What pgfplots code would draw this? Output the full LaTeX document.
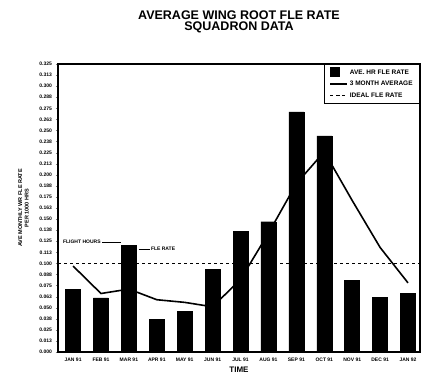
\documentclass[border=0pt]{standalone}
\usepackage{pgfplots}
\pgfplotsset{compat=1.18}
\usepackage{fontspec}
\setmainfont{Liberation Sans}
\begin{document}
\begin{tikzpicture}[x=1pt,y=1pt]
\path[use as bounding box] (0,0) rectangle (427,382);
\begin{axis}[
  at={(58pt,30pt)}, anchor=south west,
  scale only axis, width=362pt, height=288pt,
  xmin=0.46, xmax=13.43, ymin=0, ymax=0.325,
  axis line style={line width=1.2pt},
  ytick={0,0.0125,...,0.33},
  yticklabel style={font=\fontsize{5}{5}\selectfont\bfseries, /pgf/number format/fixed, /pgf/number format/fixed zerofill, /pgf/number format/precision=3},
  /pgf/number format/assume math mode=true,
  tick align=outside, ytick pos=left, major tick length=2.5pt,
  xtick={1,...,13},
  xticklabels={JAN 91,FEB 91,MAR 91,APR 91,MAY 91,JUN 91,JUL 91,AUG 91,SEP 91,OCT 91,NOV 91,DEC 91,JAN 92},
  xticklabel style={font=\fontsize{5}{5}\selectfont\bfseries},
  xtick pos=bottom, xtick style={draw=none},
  xlabel={\bfseries TIME}, xlabel style={font=\fontsize{8}{8}\selectfont, yshift=1pt},
  ylabel={\bfseries AVE MONTHLY WR FLE RATE\\ \bfseries PER 1000 HRS}, ylabel style={font=\fontsize{5.5}{6.5}\selectfont, align=center, yshift=4pt},
  title={\bfseries AVERAGE WING ROOT FLE RATE\\ \bfseries SQUADRON DATA},
  title style={font=\fontsize{12.5}{11}\selectfont, align=center, yshift=22pt},
  legend style={at={(1,1)}, anchor=north east, font=\fontsize{6.5}{7}\selectfont\bfseries, draw=black, line width=0.8pt, row sep=1.5pt, inner xsep=5pt, inner ysep=3pt},
  legend cell align=left,
]
\addplot[ybar, bar width=15pt, fill=black, draw=black,
  legend image code/.code={\fill[black] (0pt,-4pt) rectangle (9pt,5pt);}] coordinates {
(1,0.071) (2,0.061) (3,0.120) (4,0.037) (5,0.046) (6,0.093) (7,0.136) (8,0.147) (9,0.271) (10,0.244) (11,0.081) (12,0.062) (13,0.066)};
\addlegendentry{AVE. HR FLE RATE}
\addplot[black, line width=1.6pt, mark=none] coordinates {
(1,0.097) (2,0.066) (3,0.071) (4,0.059) (5,0.056) (6,0.051) (7,0.082) (8,0.134) (9,0.190) (10,0.226) (11,0.171) (12,0.118) (13,0.078)};
\addlegendentry{3 MONTH AVERAGE}
\addplot[black, dashed, line width=0.8pt, mark=none] coordinates {(0.46,0.100) (13.43,0.100)};
\addlegendentry{IDEAL FLE RATE}
\node[font=\fontsize{5}{5}\selectfont\bfseries, anchor=west, inner sep=1pt] (fh) at (axis cs:0.6,0.124) {FLIGHT HOURS};
\draw[line width=0.6pt] (fh.east) -- (axis cs:2.7,0.124);
\draw[line width=0.6pt] (axis cs:3.35,0.116) -- (axis cs:3.75,0.116);
\node[font=\fontsize{5}{5}\selectfont\bfseries, anchor=west, inner sep=1pt] at (axis cs:3.75,0.116) {FLE RATE};
\end{axis}
\end{tikzpicture}
\end{document}
